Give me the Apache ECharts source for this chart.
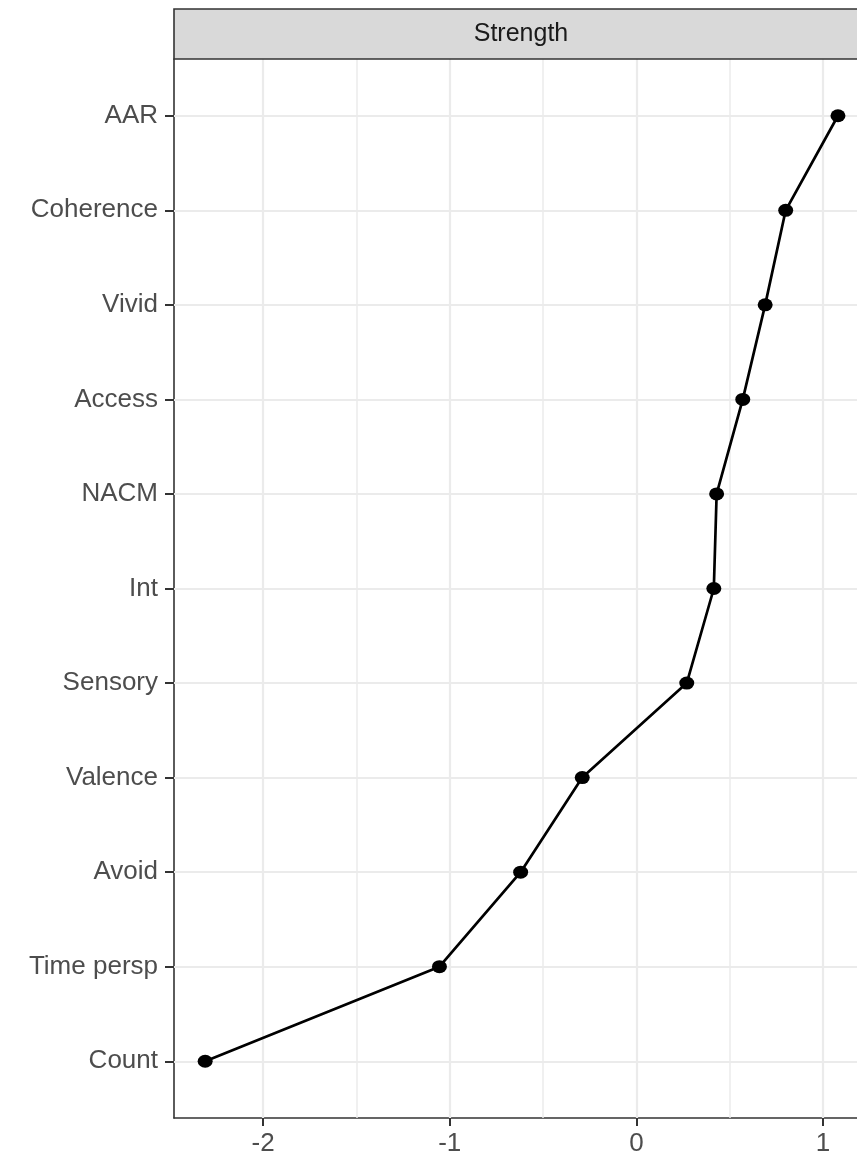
<!DOCTYPE html>
<html>
<head>
<meta charset="utf-8">
<script src="https://cdn.jsdelivr.net/npm/echarts@6/dist/echarts.min.js"></script>
<style>html,body{margin:0;padding:0;background:#fff}#c{width:857px;height:1157px}</style>
</head>
<body>
<div id="c"></div>
<script>
const categories = ['AAR','Coherence','Vivid','Access','NACM','Int','Sensory','Valence','Avoid','Time persp','Count'];
const strengthValues = [1.08, 0.80, 0.69, 0.57, 0.43, 0.415, 0.27, -0.29, -0.62, -1.055, -2.31];
const xTickValues = [-2, -1, 0, 1];
const xMinorGrid = [-1.5, -0.5, 0.5];
const panelTitle = 'Strength';

const FONT = 'Liberation Sans, Arial, sans-serif';
const chart = echarts.init(document.getElementById('c'), null, {renderer: 'canvas'});
const idx = categories.map((_, i) => i);
const seriesData = strengthValues.map((v, i) => [v, i]);

const gridLeft = 174, gridTop = 59, gridRight = 0, gridBottom = 36;
const axisLineStyle = {color: '#333333', width: 1.6};
const tickStyle = {color: '#333333', width: 2};

chart.setOption({
  animation: false,
  backgroundColor: '#ffffff',
  grid: {left: gridLeft, top: gridTop, right: gridRight, bottom: gridBottom, show: false, containLabel: false},
  xAxis: {
    type: 'value', min: -2.477, max: 1.182,
    axisLine: {show: true, onZero: false, lineStyle: axisLineStyle},
    splitLine: {show: false},
    axisTick: {show: true, length: 8, lineStyle: tickStyle, customValues: xTickValues},
    axisLabel: {customValues: xTickValues, color: '#4d4d4d', fontSize: 26, fontFamily: FONT, margin: 13,
                formatter: v => String(v)}
  },
  yAxis: {
    type: 'value', min: -0.6, max: 10.6, inverse: true,
    axisLine: {show: true, onZero: false, lineStyle: axisLineStyle},
    splitLine: {show: false},
    axisTick: {show: true, length: 9, lineStyle: tickStyle, customValues: idx},
    axisLabel: {customValues: idx, color: '#4d4d4d', fontSize: 26, fontFamily: FONT, margin: 16,
                formatter: v => categories[Math.round(v)] || ''}
  },
  graphic: [
    {type: 'rect', z: 10, shape: {x: gridLeft, y: 9, width: 720, height: gridTop - 9},
     style: {fill: '#d9d9d9', stroke: '#333333', lineWidth: 1.6}},
    {type: 'text', z: 11, x: 521, y: 34,
     style: {text: panelTitle, fill: '#1a1a1a', font: '25px ' + FONT, align: 'center', verticalAlign: 'middle'}}
  ],
  series: [
    {
      type: 'line', data: [], z: 1, silent: true,
      markLine: {
        silent: true, symbol: 'none', animation: false, label: {show: false},
        data: [
          ...xMinorGrid.map(v => ({xAxis: v, lineStyle: {color: '#ebebeb', width: 1.5, type: 'solid'}})),
          ...xTickValues.map(v => ({xAxis: v, lineStyle: {color: '#ebebeb', width: 2.2, type: 'solid'}})),
          ...idx.map(v => ({yAxis: v, lineStyle: {color: '#ebebeb', width: 2.2, type: 'solid'}}))
        ]
      }
    },
    {
      type: 'line', data: seriesData, z: 5,
      lineStyle: {color: '#000000', width: 2.7},
      symbol: 'path://M0,50 A50,50 0 1,1 100,50 A50,50 0 1,1 0,50 Z',
      symbolSize: [15, 13],
      itemStyle: {color: '#000000', borderWidth: 0},
      showSymbol: true
    }
  ]
});
</script>
</body>
</html>
